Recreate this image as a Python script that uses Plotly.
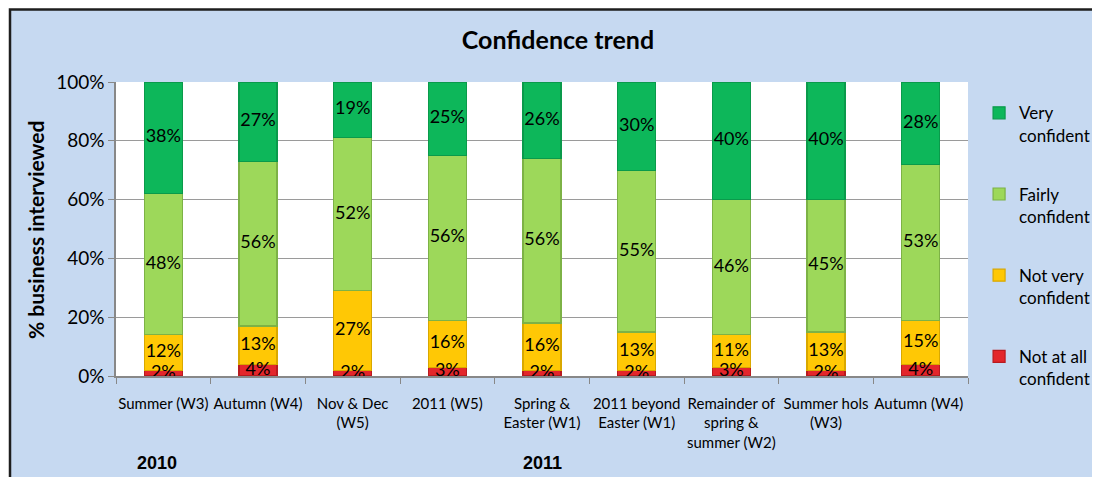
import plotly.graph_objects as go

categories = ["Summer (W3)", "Autumn (W4)", "Nov & Dec<br>(W5)", "2011 (W5)",
              "Spring &<br>Easter (W1)", "2011 beyond<br>Easter (W1)",
              "Remainder of<br>spring &<br>summer (W2)", "Summer hols<br>(W3)", "Autumn (W4) "]
not_at_all = [2, 4, 2, 3, 2, 2, 3, 2, 4]
not_very = [12, 13, 27, 16, 16, 13, 11, 13, 15]
fairly = [48, 56, 52, 56, 56, 55, 46, 45, 53]
very = [38, 27, 19, 25, 26, 30, 40, 40, 28]
years = ["2010", "2011"]
year_pos = [0, 4]

series = [
    ("Not at all<br>confident", not_at_all, "#E3262B", "#B81A1F", 4),
    ("Not very<br>confident", not_very, "#FFC805", "#D9A800", 3),
    ("Fairly<br>confident", fairly, "#9DD85A", "#7DB246", 2),
    ("Very<br>confident", very, "#0DB75A", "#0A9A4B", 1),
]

FONT = "Lato"
fig = go.Figure()
base = [0] * len(categories)
label_x, label_y, label_t = [], [], []
for i, (name, vals, col, lcol, rank) in enumerate(series):
    fig.add_trace(go.Bar(
        x=categories, y=vals, name=name, legendgroup=str(i), legendrank=rank,
        marker=dict(color=col, line=dict(color=lcol, width=1.2)),
        hoverinfo="skip",
    ))
    for j, v in enumerate(vals):
        label_x.append(categories[j])
        label_y.append(base[j] + v / 2)
        label_t.append(f"{v}%")
        base[j] += v

# data labels drawn on top of all bar segments
fig.add_trace(go.Scatter(
    x=label_x, y=label_y, text=label_t, mode="text", textposition="middle center",
    textfont=dict(color="black", size=18, family=FONT),
    cliponaxis=False, showlegend=False, hoverinfo="skip",
))

# page has an 8px body margin: figure coords = page coords - 8
fig.update_layout(
    barmode="stack", bargap=0.6,
    width=1100, height=477,
    margin=dict(l=108, r=140, t=74, b=109, autoexpand=False),
    paper_bgcolor="white", plot_bgcolor="white",
    font=dict(family=FONT, color="black"),
    title=dict(text="<b>Confidence trend</b>", x=550 / 1100, xanchor="center",
               y=1 - 32 / 477, yanchor="middle", yref="container",
               font=dict(size=25, family=FONT, color="black")),
    legend=dict(x=1.013, xanchor="left", y=0.955, yanchor="top",
                traceorder="grouped", tracegroupgap=34, valign="top",
                font=dict(size=17, family=FONT, color="black"),
                bgcolor="rgba(0,0,0,0)", itemwidth=30),
    showlegend=True,
)
fig.update_xaxes(
    showgrid=False, showline=True, linecolor="#888888", linewidth=1.5,
    ticks="outside", tickson="boundaries", ticklen=6, tickcolor="#888888",
    tickangle=0, ticklabelstandoff=13,
    tickfont=dict(size=15, family=FONT, color="black"),
)
fig.update_yaxes(
    range=[0, 100], dtick=20, ticksuffix="%",
    showgrid=True, gridcolor="#9A9A9A", gridwidth=1.2,
    showline=True, linecolor="#888888", linewidth=1.5,
    ticks="outside", ticklen=6, tickcolor="#888888",
    tickfont=dict(size=19, family=FONT, color="black"), zeroline=False,
)

# background panel with border, and white plot area
fig.add_shape(type="rect", xref="paper", yref="paper",
              x0=-106 / 852, x1=1.3, y0=-0.6, y1=1 + 72.5 / 294,
              fillcolor="#C6D9F1", line=dict(color="#1E1E1E", width=2.5), layer="below")
fig.add_shape(type="rect", xref="paper", yref="paper",
              x0=0, x1=1, y0=0, y1=1, fillcolor="white", line=dict(width=0), layer="below")

fig.add_annotation(text="<b>% business interviewed</b>", xref="paper", yref="paper",
                   x=(35 - 116) / 852, y=1 - (230 - 82) / 294, xanchor="center",
                   yanchor="middle", textangle=-90, showarrow=False,
                   font=dict(size=21, family=FONT, color="black"))
for yr, p, dx in zip(years, year_pos, [-6, 0]):
    fig.add_annotation(text=f"<b>{yr}</b>", xref="x", yref="paper", x=p, xshift=dx,
                       y=1 - (463 - 82) / 294, xanchor="center", yanchor="middle",
                       showarrow=False,
                       font=dict(size=18, family="Liberation Sans", color="black"))

fig.write_html("out.html")
